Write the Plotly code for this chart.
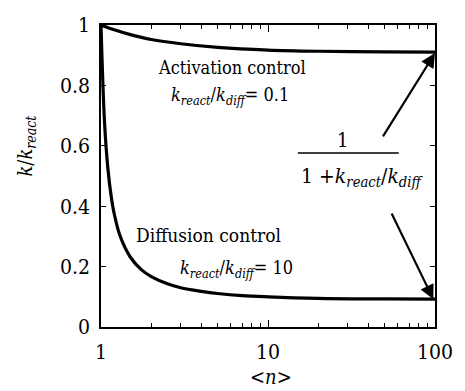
import plotly.graph_objects as go

# Data
n_act = [1, 1.2, 1.5, 2, 3, 5, 10, 20, 50, 100]
k_act = [1.0, 0.984, 0.968, 0.952, 0.938, 0.926, 0.917, 0.913, 0.911, 0.910]
n_dif = [1, 1.05, 1.1, 1.15, 1.2, 1.3, 1.5, 1.75, 2, 2.5, 3, 4, 5, 7, 10, 20, 50, 100]
k_dif = [1.0, 0.677, 0.524, 0.434, 0.375, 0.302, 0.231, 0.189, 0.167, 0.143, 0.130, 0.118, 0.111, 0.104, 0.100, 0.095, 0.093, 0.092]
x_tickvals = [1, 10, 100]
x_ticktext = ["1", "10", "100"]
y_tickvals = [0, 0.2, 0.4, 0.6, 0.8, 1]
y_ticktext = ["0", "0.2", "0.4", "0.6", "0.8", "1"]

FONT = "DejaVu Serif Condensed, DejaVu Serif, serif"
fig = go.Figure()
fig.add_trace(go.Scatter(x=n_act, y=k_act, mode="lines", line=dict(color="black", width=3.2, shape="spline"), showlegend=False))
fig.add_trace(go.Scatter(x=n_dif, y=k_dif, mode="lines", line=dict(color="black", width=3.2, shape="spline"), showlegend=False))

W, H = 465, 391
L, R, T, B = 101, 23, 25, 64
pw, ph = W - L - R, H - T - B

def px(x):
    return (x - L) / pw

def py(y):
    return (H - B - y) / ph

fig.update_layout(
    width=W, height=H, margin=dict(l=L, r=R, t=T, b=B),
    paper_bgcolor="white", plot_bgcolor="white",
    font=dict(family=FONT, color="black", size=18),
    xaxis=dict(type="log", range=[0, 2], tickvals=x_tickvals, ticktext=x_ticktext,
               ticks="inside", ticklen=7, tickwidth=1.2, tickcolor="black",
               showline=True, linecolor="black", linewidth=1.5, mirror="ticks",
               showgrid=False, zeroline=False, tickfont=dict(size=21, family=FONT),
               ticklabelstandoff=5,
               minor=dict(tickvals=[2, 3, 4, 5, 6, 7, 8, 9, 20, 30, 40, 50, 60, 70, 80, 90],
                          ticks="inside", ticklen=4, tickcolor="black", showgrid=False)),
    yaxis=dict(range=[0, 1], tickvals=y_tickvals, ticktext=y_ticktext,
               ticks="inside", ticklen=5, tickwidth=1.2, tickcolor="black",
               showline=True, linecolor="black", linewidth=1.5, mirror="ticks",
               showgrid=False, zeroline=False, tickfont=dict(size=21, family=FONT),
               ticklabelstandoff=5),
)

ann = []
def txt(text, x, y, size=18, **kw):
    ann.append(dict(text=text, x=px(x), y=py(y), xref="paper", yref="paper",
                    showarrow=False, font=dict(size=size, family=FONT, color="black"),
                    xanchor="center", yanchor="middle", **kw))

txt("Activation control", 235, 67)
txt("<i>k</i><sub><i>react</i></sub>/<i>k</i><sub><i>diff</i></sub>= 0.1", 233, 96, size=18)
txt("Diffusion control", 211, 235, size=19)
txt("<i>k</i><sub><i>react</i></sub>/<i>k</i><sub><i>diff</i></sub>= 10", 239, 269, size=18)
txt("1", 348, 140, size=20)
txt("1 +<i>k</i><sub><i>react</i></sub>/<i>k</i><sub><i>diff</i></sub>", 368, 177, size=21)
txt("<i>k</i>/<i>k</i><sub><i>react</i></sub>", 24, 146, size=20, textangle=-90)
txt("<i>&lt;n&gt;</i>", 275, 377, size=20)

for (hx, hy, tx, ty) in [(2.0, 0.907, 1.683, 0.626), (1.99, 0.092, 1.736, 0.381)]:
    ann.append(dict(x=hx, y=hy, ax=tx, ay=ty, xref="x", yref="y", axref="x", ayref="y",
                    text="", showarrow=True, arrowhead=2, arrowsize=1.3, arrowwidth=2.2,
                    arrowcolor="black"))
fig.update_layout(annotations=ann)
fig.add_shape(type="line", xref="paper", yref="paper", x0=px(302), x1=px(405),
              y0=py(153), y1=py(153), line=dict(color="black", width=1.5))

fig.write_html("out.html")
